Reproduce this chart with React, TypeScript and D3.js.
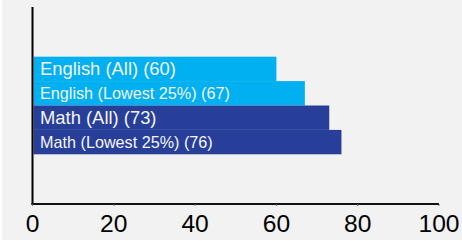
import React from "react";
import * as d3 from "d3";

const categories = ["English (All)", "English (Lowest 25%)", "Math (All)", "Math (Lowest 25%)"];
const values = [60, 67, 73, 76];
const colors = ["#00b0f0", "#00b0f0", "#283f9a", "#283f9a"];
const fontSizes = [18.4, 16.2, 18.4, 16.2];
const ticks = [0, 20, 40, 60, 80, 100];

export default function App() {
  const W = 462, H = 241;
  const x = d3.scaleLinear().domain([0, 100]).range([32.5, 439]);
  const y = d3.scaleBand<string>().domain(categories).range([56.7, 154.3]).padding(0);
  const axisY = 204;
  return (
    <svg width={W} height={H} style={{ position: "absolute", left: 0, top: 0 }} fontFamily="'Liberation Sans', Arial, sans-serif">
      <rect x={0} y={0} width={W} height={H} fill="#ffffff" />
      <rect x={2} y={0} width={W - 2} height={H - 1} fill="#f2f2f2" />
      {categories.map((c, i) => (
        <rect key={c} x={x(0) + 1} y={y(c)!} width={x(values[i]) - x(0) - 1} height={y.bandwidth()} fill={colors[i]} />
      ))}
      {categories.map((c, i) => (
        <text key={c + "t"} x={40} y={y(c)! + y.bandwidth() / 2 + (fontSizes[i] > 17 ? 6.5 : 5.5)} fontSize={fontSizes[i]} fill="#f4f4f4">
          {`${c} (${values[i]})`}
        </text>
      ))}
      <line x1={x(0)} x2={x(0)} y1={7} y2={axisY + 1} stroke="#000" strokeWidth={2} />
      <line x1={x(0) - 1} x2={x(100)} y1={axisY} y2={axisY} stroke="#111" strokeWidth={2} />
      {ticks.map((t) => (
        <g key={t}>
          <line x1={x(t)} x2={x(t)} y1={axisY} y2={axisY + 2} stroke="#666" strokeWidth={1} />
          <text x={x(t)} y={232} fontSize={24.6} textAnchor="middle" fill="#000">{t}</text>
        </g>
      ))}
    </svg>
  );
}
